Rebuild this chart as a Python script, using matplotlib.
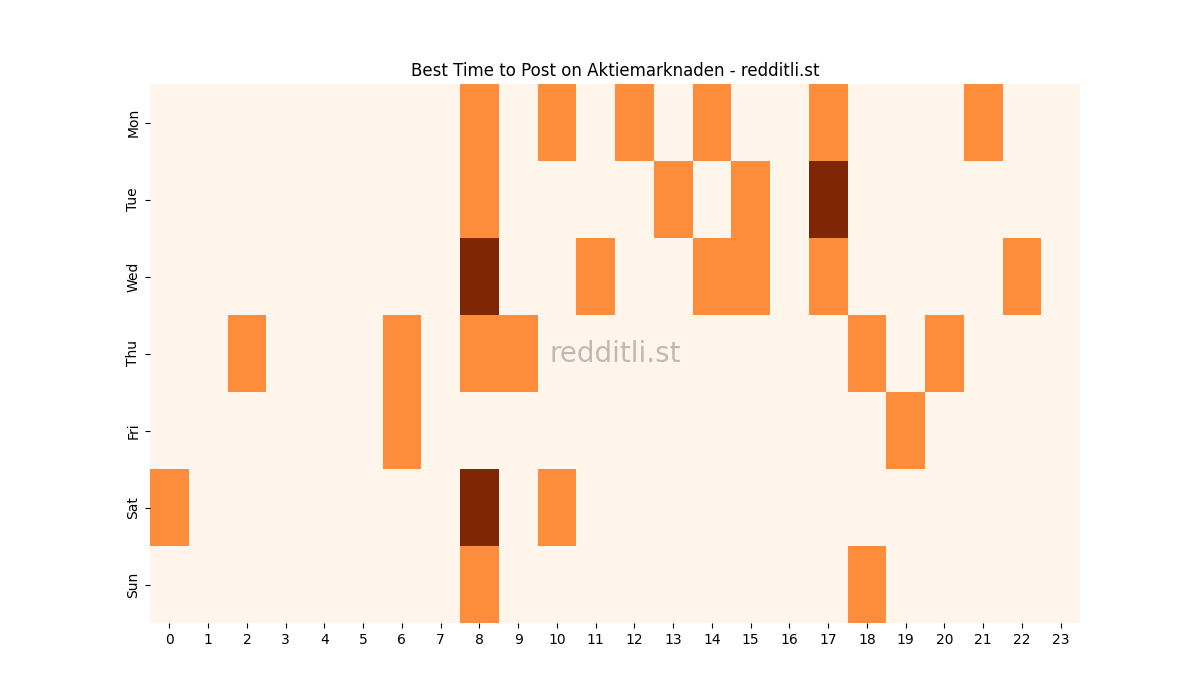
import numpy as np
import matplotlib
matplotlib.use("Agg")
import matplotlib.pyplot as plt
import seaborn as sns

days = ["Mon", "Tue", "Wed", "Thu", "Fri", "Sat", "Sun"]
hours = list(range(24))

# post activity level per (day, hour): 1 = active, 2 = busiest
active = {
    "Mon": {8: 1, 10: 1, 12: 1, 14: 1, 17: 1, 21: 1},
    "Tue": {8: 1, 13: 1, 15: 1, 17: 2},
    "Wed": {8: 2, 11: 1, 14: 1, 15: 1, 17: 1, 22: 1},
    "Thu": {2: 1, 6: 1, 8: 1, 9: 1, 18: 1, 20: 1},
    "Fri": {6: 1, 19: 1},
    "Sat": {0: 1, 8: 2, 10: 1},
    "Sun": {8: 1, 18: 1},
}

grid = np.zeros((len(days), len(hours)))
for i, d in enumerate(days):
    for h, v in active[d].items():
        grid[i, h] = v

fig, ax = plt.subplots(figsize=(12, 7), dpi=100)
sns.heatmap(grid, cmap="Oranges", cbar=False, ax=ax,
            xticklabels=hours, yticklabels=days)
ax.set_title("Best Time to Post on Aktiemarknaden - redditli.st")
ax.text(0.5, 0.5, "redditli.st", transform=ax.transAxes, fontsize=20,
        color="gray", alpha=0.5, ha="center", va="center")
plt.savefig("out.png")
